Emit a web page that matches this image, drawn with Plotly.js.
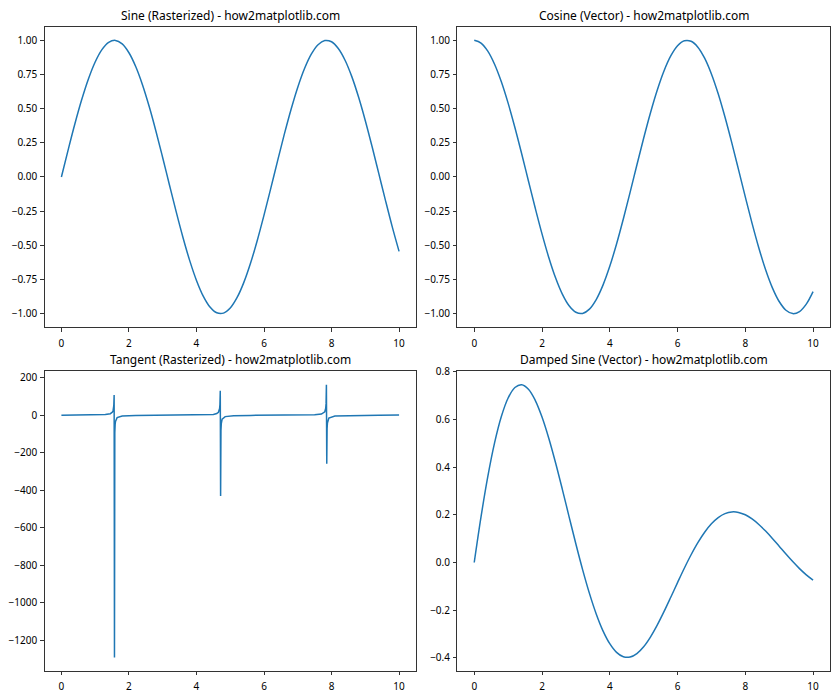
<!DOCTYPE html>
<html>
<head>
<meta charset="utf-8">
<script src="https://cdn.plot.ly/plotly-3.0.1.min.js"></script>
<style>html,body{margin:0;padding:0;background:#fff;}#chart{width:840px;height:700px;}</style>
</head>
<body>
<div id="chart"></div>
<script>
// Shared x positions for the smooth curves
const xGrid = [0.0,0.2,0.4,0.6,0.8,1.0,1.2,1.4,1.6,1.8,2.0,2.2,2.4,2.6,2.8,3.0,3.2,3.4,3.6,3.8,4.0,4.2,4.4,4.6,4.8,5.0,5.2,5.4,5.6,5.8,6.0,6.2,6.4,6.6,6.8,7.0,7.2,7.4,7.6,7.8,8.0,8.2,8.4,8.6,8.8,9.0,9.2,9.4,9.6,9.8,10.0];

const sineVals = [0.0000,0.1987,0.3894,0.5646,0.7174,0.8415,0.9320,0.9854,0.9996,0.9738,0.9093,0.8085,0.6755,0.5155,0.3350,0.1411,-0.0584,-0.2555,-0.4425,-0.6119,-0.7568,-0.8716,-0.9516,-0.9937,-0.9962,-0.9589,-0.8835,-0.7728,-0.6313,-0.4646,-0.2794,-0.0831,0.1165,0.3115,0.4941,0.6570,0.7937,0.8987,0.9679,0.9985,0.9894,0.9407,0.8546,0.7344,0.5849,0.4121,0.2229,0.0248,-0.1743,-0.3665,-0.5440];

const cosineVals = [1.0000,0.9801,0.9211,0.8253,0.6967,0.5403,0.3624,0.1700,-0.0292,-0.2272,-0.4161,-0.5885,-0.7374,-0.8569,-0.9422,-0.9900,-0.9983,-0.9668,-0.8968,-0.7910,-0.6536,-0.4903,-0.3073,-0.1122,0.0875,0.2837,0.4685,0.6347,0.7756,0.8855,0.9602,0.9965,0.9932,0.9502,0.8694,0.7539,0.6084,0.4385,0.2513,0.0540,-0.1455,-0.3392,-0.5193,-0.6787,-0.8111,-0.9111,-0.9748,-0.9997,-0.9847,-0.9304,-0.8391];

const dampedVals = [0.0000,0.1909,0.3595,0.5008,0.6113,0.6889,0.7331,0.7448,0.7258,0.6794,0.6095,0.5207,0.4180,0.3065,0.1913,0.0774,-0.0308,-0.1294,-0.2154,-0.2862,-0.3400,-0.3763,-0.3947,-0.3960,-0.3814,-0.3528,-0.3123,-0.2624,-0.2060,-0.1457,-0.0842,-0.0241,0.0324,0.0832,0.1268,0.1620,0.1880,0.2045,0.2117,0.2098,0.1998,0.1825,0.1593,0.1315,0.1006,0.0681,0.0354,0.0038,-0.0256,-0.0516,-0.0736];

const tanX = [0.0,0.5,1.0,1.3,1.45,1.5115,1.5315,1.5516,1.5616,1.5716,1.5816,1.5916,1.6016,1.65,1.8,2.2,2.8,3.2,3.8,4.3,4.5,4.6,4.65,4.6847,4.6947,4.7047,4.7147,4.7247,4.7347,4.76,4.85,5.1,5.6,6.3,7.0,7.5,7.7,7.8,7.8278,7.8378,7.8478,7.8579,7.8679,7.8779,7.92,8.1,8.6,9.4,10.0];
const tanVals = [0.0,0.55,1.56,3.6,8.2,16.8,25.5,52.0,108.3,-1289.9,-92.7,-48.1,-32.5,-12.6,-4.3,-1.37,-0.36,0.06,0.77,2.28,4.64,8.86,16.0,36.1,56.5,130.1,-430.0,-81.1,-44.7,-20.9,-7.2,-2.6,-0.81,0.02,0.87,2.71,6.45,18.5,38.2,61.9,163.0,-258.0,-72.0,-41.8,-15.1,-4.0,-1.08,0.03,0.65];

const titles = ['Sine (Rasterized) - how2matplotlib.com','Cosine (Vector) - how2matplotlib.com','Tangent (Rasterized) - how2matplotlib.com','Damped Sine (Vector) - how2matplotlib.com'];
const xTicks = [0,2,4,6,8,10];
const trigTicks = [-1.0,-0.75,-0.5,-0.25,0.0,0.25,0.5,0.75,1.0];
const tanTicks = [-1200,-1000,-800,-600,-400,-200,0,200];
const dampedTicks = [-0.4,-0.2,0.0,0.2,0.4,0.6,0.8];

const lineStyle = {color:'#1f77b4', width:1.5};
const traces = [
  {x:xGrid, y:sineVals, xaxis:'x', yaxis:'y', mode:'lines', line:Object.assign({shape:'spline'}, lineStyle)},
  {x:xGrid, y:cosineVals, xaxis:'x2', yaxis:'y2', mode:'lines', line:Object.assign({shape:'spline'}, lineStyle)},
  {x:tanX, y:tanVals, xaxis:'x3', yaxis:'y3', mode:'lines', line:Object.assign({}, lineStyle)},
  {x:xGrid, y:dampedVals, xaxis:'x4', yaxis:'y4', mode:'lines', line:Object.assign({shape:'spline'}, lineStyle)}
];

const font = {family:'"Noto Sans", "DejaVu Sans", sans-serif', size:10, color:'#000'};
function xax(domain, anchor){
  return {domain:domain, anchor:anchor, range:[-0.5,10.5], tickvals:xTicks, ticks:'outside', ticklen:3.5, tickwidth:0.8, tickcolor:'#000',
    ticklabelstandoff:3,
    showline:true, mirror:true, linecolor:'#000', linewidth:0.8, showgrid:false, zeroline:false, tickfont:font};
}
function yax(domain, anchor, range, tv, fmt){
  return {domain:domain, anchor:anchor, range:range, tickvals:tv, tickformat:fmt, ticks:'outside', ticklen:3.5, tickwidth:0.8, tickcolor:'#000',
    ticklabelstandoff:1,
    showline:true, mirror:true, linecolor:'#000', linewidth:0.8, showgrid:false, zeroline:false, tickfont:font};
}
const xL=[0.053,0.4952], xR=[0.5444,0.9881], yT=[0.5324,0.9619], yB=[0.0414,0.47];
const titleFont = Object.assign({}, font, {size:12});
const layout = {
  width:840, height:700, margin:{l:0,r:0,t:0,b:0}, showlegend:false,
  paper_bgcolor:'#fff', plot_bgcolor:'#fff', font:font,
  xaxis:xax(xL,'y'), yaxis:yax(yT,'x',[-1.1,1.1],trigTicks,'.2f'),
  xaxis2:xax(xR,'y2'), yaxis2:yax(yT,'x2',[-1.1,1.1],trigTicks,'.2f'),
  xaxis3:xax(xL,'y3'), yaxis3:yax(yB,'x3',[-1362.5,235.7],tanTicks,'d'),
  xaxis4:xax(xR,'y4'), yaxis4:yax(yB,'x4',[-0.4546,0.8021],dampedTicks,'.1f'),
  annotations:[
    {text:titles[0], xref:'paper', yref:'paper', x:(xL[0]+xL[1])/2, y:yT[1], xanchor:'center', yanchor:'bottom', yshift:2, borderpad:0, showarrow:false, font:titleFont},
    {text:titles[1], xref:'paper', yref:'paper', x:(xR[0]+xR[1])/2, y:yT[1], xanchor:'center', yanchor:'bottom', yshift:2, borderpad:0, showarrow:false, font:titleFont},
    {text:titles[2], xref:'paper', yref:'paper', x:(xL[0]+xL[1])/2, y:yB[1], xanchor:'center', yanchor:'bottom', yshift:2, borderpad:0, showarrow:false, font:titleFont},
    {text:titles[3], xref:'paper', yref:'paper', x:(xR[0]+xR[1])/2, y:yB[1], xanchor:'center', yanchor:'bottom', yshift:2, borderpad:0, showarrow:false, font:titleFont}
  ]
};
Plotly.newPlot('chart', traces, layout, {displayModeBar:false, staticPlot:true});
</script>
</body>
</html>
